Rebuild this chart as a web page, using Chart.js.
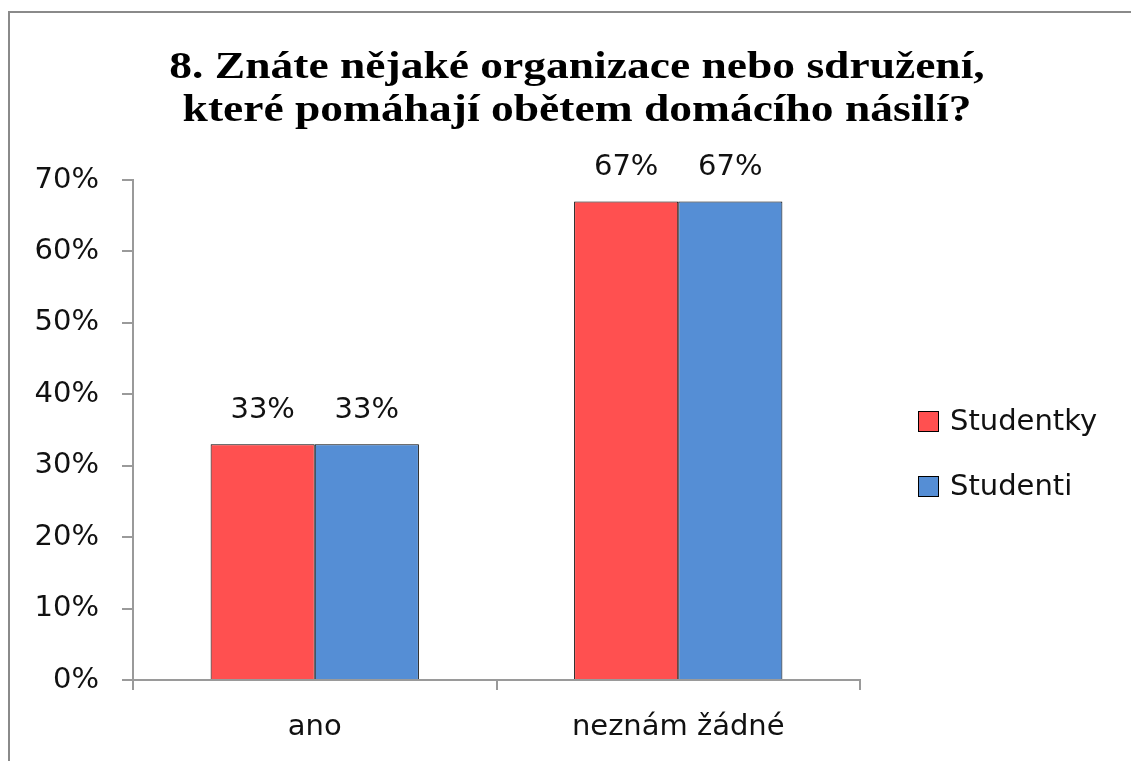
<!DOCTYPE html>
<html>
<head>
<meta charset="utf-8">
<script src="https://cdn.jsdelivr.net/npm/chart.js@4.4.0/dist/chart.umd.min.js"></script>
<style>
html,body{margin:0;padding:0;background:#fff;overflow:hidden;width:1131px;height:761px;}
#frame{position:absolute;left:8px;top:11px;width:1132px;height:760px;border-left:2px solid #8a8a8a;border-top:2px solid #8a8a8a;background:#fff;}
#c{position:absolute;left:0;top:0;}
</style>
</head>
<body>
<div id="frame"><canvas id="c" width="1132" height="748"></canvas></div>
<script>
// ---- data ----
const titleLines = ['8. Znáte nějaké organizace nebo sdružení,', 'které pomáhají obětem domácího násilí?'];
const categories = ['ano', 'neznám žádné'];
const seriesNames = ['Studentky', 'Studenti'];
const studentky = [33, 67];
const studenti = [33, 67];
const yMin = 0;
const yMax = 70;
const yStep = 10;

// ---- styles ----
const RED = '#FF5050';
const BLUE = '#558ED5';
const AXIS = '#9a9a9a';
const TEXT = '#111111';
const SANS = "'DejaVu Sans', sans-serif";
const FS = 29;

// Title drawn as canvas text, horizontally widened like the original
const wideTitle = {
  id: 'wideTitle',
  afterDraw(chart) {
    const ctx = chart.ctx;
    ctx.save();
    ctx.font = "bold 37px 'Liberation Serif', serif";
    ctx.fillStyle = '#000';
    ctx.textAlign = 'center';
    ctx.textBaseline = 'alphabetic';
    const cx = chart.width / 2 + 1;
    const sx = 1.23;
    titleLines.forEach((line, i) => {
      ctx.save();
      ctx.translate(cx, 65 + i * 43);
      ctx.scale(sx, 1);
      ctx.fillText(line, 0, 0);
      ctx.restore();
    });
    ctx.restore();
  }
};

const dataLabels = {
  id: 'dataLabels',
  afterDatasetsDraw(chart) {
    const ctx = chart.ctx;
    ctx.save();
    ctx.font = FS + 'px ' + SANS;
    ctx.fillStyle = TEXT;
    ctx.textAlign = 'center';
    ctx.textBaseline = 'alphabetic';
    chart.data.datasets.forEach((ds, i) => {
      const meta = chart.getDatasetMeta(i);
      meta.data.forEach((el, j) => {
        ctx.fillText(ds.data[j] + '%', el.x, el.y - 26);
      });
    });
    ctx.restore();
  }
};

const customLegend = {
  id: 'customLegend',
  afterDraw(chart) {
    const ctx = chart.ctx;
    const area = chart.chartArea;
    const x0 = area.right + 58;
    const y0 = 398;
    const pitch = 65;
    const box = 21;
    ctx.save();
    ctx.font = FS + 'px ' + SANS;
    ctx.textAlign = 'left';
    ctx.textBaseline = 'middle';
    chart.data.datasets.forEach((ds, i) => {
      const y = y0 + i * pitch;
      ctx.fillStyle = ds.backgroundColor;
      ctx.fillRect(x0, y, box, box);
      ctx.strokeStyle = '#000';
      ctx.lineWidth = 1;
      ctx.strokeRect(x0 + 0.5, y + 0.5, box - 1, box - 1);
      ctx.fillStyle = TEXT;
      ctx.fillText(ds.label, x0 + 32, y + box / 2 + 1);
    });
    ctx.restore();
  }
};

new Chart(document.getElementById('c'), {
  type: 'bar',
  data: {
    labels: categories,
    datasets: [
      { label: seriesNames[0], data: studentky, backgroundColor: RED, borderColor: '#000', borderWidth: 1, borderSkipped: 'bottom' },
      { label: seriesNames[1], data: studenti, backgroundColor: BLUE, borderColor: '#000', borderWidth: 1, borderSkipped: 'bottom' }
    ]
  },
  options: {
    responsive: false,
    animation: false,
    layout: { padding: { top: 167, left: 0, right: 0, bottom: 0 } },
    datasets: { bar: { barPercentage: 1, categoryPercentage: 0.573 } },
    plugins: {
      legend: { display: false },
      tooltip: { enabled: false },
      title: { display: false }
    },
    scales: {
      x: {
        type: 'category',
        offset: true,
        grid: { display: true, offset: true, drawOnChartArea: false, drawTicks: true, tickLength: 10, color: AXIS, lineWidth: 2 },
        border: { display: true, color: AXIS, width: 2 },
        ticks: { color: TEXT, font: { family: SANS, size: FS }, padding: 20, maxRotation: 0 },
        afterFit(s) { s.height = 81; }
      },
      y: {
        type: 'linear',
        position: 'left',
        min: yMin,
        max: yMax,
        grid: { display: true, drawOnChartArea: false, drawTicks: true, tickLength: 11, color: AXIS, lineWidth: 2 },
        border: { display: true, color: AXIS, width: 2 },
        ticks: { stepSize: yStep, color: TEXT, font: { family: SANS, size: FS }, padding: 23, callback: v => v + '%' },
        afterFit(s) { s.width = 123; }
      },
      spacer: {
        type: 'linear',
        position: 'right',
        display: true,
        grid: { display: false },
        border: { display: false },
        ticks: { display: false },
        afterFit(s) { s.width = 282; }
      }
    }
  },
  plugins: [wideTitle, dataLabels, customLegend]
});
</script>
</body>
</html>
